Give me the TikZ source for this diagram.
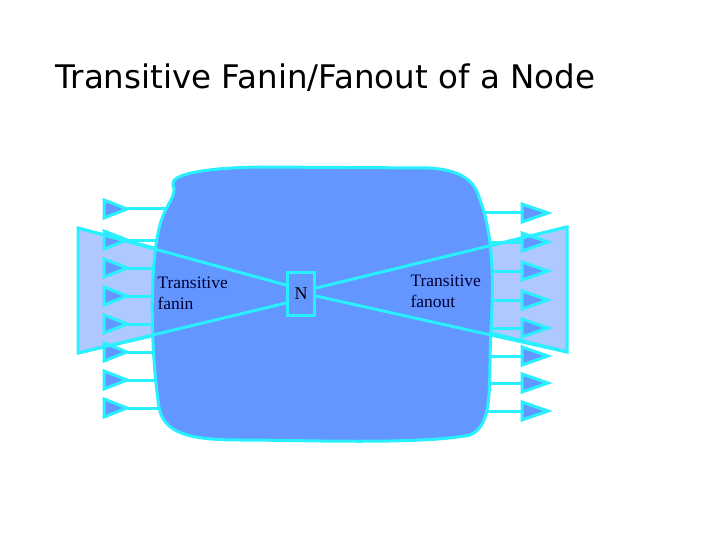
\documentclass[tikz,border=0pt]{standalone}
\usepackage{fontspec}
\setmainfont{Liberation Serif}
\newfontfamily\titlefont{DejaVu Sans}
\begin{document}
\begin{tikzpicture}[x=1pt,y=-1pt,
  cy/.style={draw=cyan,line width=3pt},
  inarrow/.style={cy,fill=blobc,line join=miter},
]
\definecolor{blobc}{RGB}{100,150,255}
\definecolor{lightc}{RGB}{175,200,255}
\definecolor{cyan}{RGB}{40,240,255}
\useasboundingbox (0,0) rectangle (720,540);
\node[anchor=west,font=\titlefont\fontsize{32.5}{38}\selectfont] (title) at (52,78) {Transitive Fanin/Fanout of a Node};
% fan triangles (fill under blob)
\fill[lightc,draw=cyan,line width=3pt] (78,228) -- (200,260) -- (200,325) -- (78,353) -- cycle;
\fill[lightc,draw=cyan,line width=3pt] (567,227) -- (567,352) -- (440,320) -- (440,258) -- cycle;
% input lines and arrows
\foreach \y in {209,240,268,296,324,352,380,408}{
  \draw[cy] (127,\y) -- (175,\y);
  \draw[inarrow] (104,\y-9) -- (127,\y) -- (104,\y+9) -- cycle;
}
\foreach \y in {213,242,271,300,328,356,383,411}{
  \draw[cy] (470,\y) -- (522,\y);
  \draw[inarrow] (522,\y-9) -- (548,\y) -- (522,\y+9) -- cycle;
}
% blob
\draw[cy,fill=blobc] (173,185) .. controls (170,175) and (200,168) .. (260,167)
  -- (430,168) .. controls (460,170) and (475,180) .. (480,200)
  .. controls (495,240) and (493,290) .. (491,330)
  .. controls (488,380) and (495,425) .. (470,435)
  .. controls (420,445) and (300,440) .. (240,440)
  .. controls (180,440) and (160,430) .. (158,400)
  .. controls (150,340) and (150,260) .. (160,225)
  .. controls (165,205) and (178,195) .. (173,185) -- cycle;
% N node
\node[cy,fill=blobc,minimum width=27pt,minimum height=43pt,inner sep=0pt,font=\fontsize{18}{20}\selectfont] (N) at (301,294) {N};
% fan lines
\coordinate (la) at (78,228); \coordinate (lb) at (78,353);
\coordinate (ra) at (567,227); \coordinate (rb) at (567,352);
\draw[cy] (la) -- (N.west |- 0,285);
\draw[cy] (lb) -- (N.west |- 0,303);
\draw[cy] (N.east |- 0,288) -- (ra);
\draw[cy] (N.east |- 0,296) -- (rb);
\node[anchor=north west,align=left,font=\fontsize{17.5}{21}\selectfont,text=blue!20!black] (fi) at (154,273) {Transitive\\fanin};
\node[anchor=north west,align=left,font=\fontsize{17.5}{21}\selectfont,text=blue!20!black] (fo) at (407,271) {Transitive\\fanout};
\end{tikzpicture}
\end{document}
